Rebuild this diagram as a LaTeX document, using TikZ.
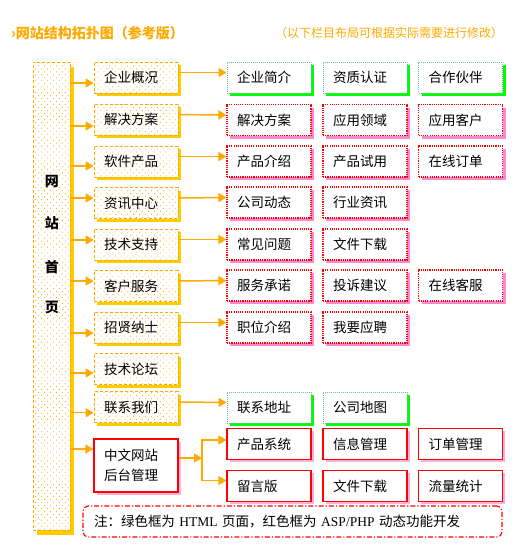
\documentclass[tikz,border=0pt]{standalone}
\usepackage{fontspec}
\setmainfont{Noto Sans CJK SC}
\newfontfamily\latinserif{Liberation Serif}
\usetikzlibrary{shadows,patterns.meta,arrows.meta,calc}
\definecolor{orgline}{HTML}{FFAA00}
\definecolor{goldsh}{HTML}{FFCC00}
\definecolor{dotc}{HTML}{FFB020}
\definecolor{grnborder}{HTML}{70B8A0}
\definecolor{grnsh}{HTML}{00FF00}
\definecolor{pinksh}{HTML}{FF88D0}
\definecolor{pinklt}{HTML}{FFB0DD}
\definecolor{redb}{HTML}{FF0000}
\newcommand{\boxfnt}{\fontsize{13.5pt}{20pt}\selectfont}
\tikzset{
  boxbase/.style={minimum width=84pt, minimum height=31pt, text width=64pt, align=left,
    inner xsep=10pt, inner ysep=0pt, font=\boxfnt, text=black},
  lvone/.style={boxbase,
    drop shadow={shadow xshift=3pt, shadow yshift=-3pt, fill=goldsh, opacity=1},
    preaction={fill=white},
    pattern={Dots[distance=4.2pt,angle=45,radius=0.6pt]}, pattern color=dotc,
    draw=orgline, line width=0.8pt, dash pattern=on 3pt off 2pt},
  grnbox/.style={boxbase,
    drop shadow={shadow xshift=3pt, shadow yshift=-3pt, fill=grnsh, opacity=1},
    fill=white, draw=grnborder, line width=0.9pt, dash pattern=on 1pt off 1pt},
  redbox/.style={boxbase,
    drop shadow={shadow xshift=3pt, shadow yshift=-3pt, fill=pinksh, opacity=1},
    fill=white, draw=redb, line width=1.1pt, dash pattern=on 1.1pt off 1.1pt},
  admbox/.style={boxbase,
    drop shadow={shadow xshift=2.5pt, shadow yshift=-2.5pt, fill=pinklt, opacity=1},
    fill=white, draw=redb, line width=1.2pt},
  mainbox/.style={minimum width=37pt, minimum height=468pt,
    drop shadow={shadow xshift=4pt, shadow yshift=-5pt, fill=goldsh, opacity=1},
    preaction={fill=white},
    pattern={Dots[distance=4.2pt,angle=45,radius=0.6pt]}, pattern color=dotc,
    draw=orgline, line width=0.8pt, dash pattern=on 3pt off 2pt},
  vtext/.style={font=\bfseries\fontsize{14pt}{16pt}\selectfont, text=black, inner sep=0pt},
  conn/.style={draw=orgline, line width=1.5pt, -{Triangle[length=8pt,width=9pt]}},
  plainln/.style={draw=orgline, line width=1.5pt, line cap=rect},
  notebox/.style={minimum width=419pt, minimum height=31pt, text width=397pt, align=left,
    inner xsep=11pt, inner ysep=0pt, rounded corners=5pt, draw=redb, fill=white,
    line width=1.1pt, dash pattern=on 5pt off 2pt on 1.2pt off 2pt, font=\boxfnt}
}
\begin{document}
\begin{tikzpicture}[x=1pt,y=-1pt]
\useasboundingbox (0,0) rectangle (524,550);
\fill[white] (0,0) rectangle (524,550);

% titles
\node[anchor=west, inner sep=0pt, text=orgline, font=\bfseries\fontsize{14pt}{16pt}\selectfont] (title) at (11,33) {›网站结构拓扑图（参考版）};
\node[anchor=west, inner sep=0pt, text=orgline, font=\fontsize{12pt}{14pt}\selectfont] (subtitle) at (275,33) {（以下栏目布局可根据实际需要进行修改）};

% main column
\node[mainbox] (main) at (51.5,296) {};
\node[vtext] (m1) at (52,182) {网};
\node[vtext] (m2) at (52,223) {站};
\node[vtext] (m3) at (52,267) {首};
\node[vtext] (m4) at (52,307) {页};

% level one
\node[lvone] (k1) at (136,77.5) {企业概况};
\node[lvone] (k2) at (136,119.5) {解决方案};
\node[lvone] (k3) at (136,161.5) {软件产品};
\node[lvone] (k4) at (136,203) {资讯中心};
\node[lvone] (k5) at (136,244.5) {技术支持};
\node[lvone] (k6) at (136,286) {客户服务};
\node[lvone] (k7) at (136,327.5) {招贤纳士};
\node[lvone] (k8) at (136,369) {技术论坛};
\node[lvone] (k9) at (136,407) {联系我们};
\node[admbox, minimum height=53pt] (k10) at (136,465.5) {中文网站\\后台管理};

% level two
\node[grnbox] (c11) at (269,77.5) {企业简介};
\node[grnbox] (c12) at (365,77.5) {资质认证};
\node[grnbox] (c13) at (460.5,77.5) {合作伙伴};
\node[redbox] (c21) at (269,120) {解决方案};
\node[redbox] (c22) at (365,120) {应用领域};
\node[redbox] (c23) at (460.5,120) {应用客户};
\node[redbox] (c31) at (269,161.5) {产品介绍};
\node[redbox] (c32) at (365,161.5) {产品试用};
\node[redbox] (c33) at (460.5,161.5) {在线订单};
\node[redbox] (c41) at (269,202.5) {公司动态};
\node[redbox] (c42) at (365,202.5) {行业资讯};
\node[redbox] (c51) at (269,244.5) {常见问题};
\node[redbox] (c52) at (365,244.5) {文件下载};
\node[redbox] (c61) at (269,285.5) {服务承诺};
\node[redbox] (c62) at (365,285.5) {投诉建议};
\node[redbox] (c63) at (460.5,285.5) {在线客服};
\node[redbox] (c71) at (269,327.5) {职位介绍};
\node[redbox] (c72) at (365,327.5) {我要应聘};
\node[grnbox] (c91) at (269,407.5) {联系地址};
\node[grnbox] (c92) at (365,407.5) {公司地图};
\node[admbox] (a11) at (269,444) {产品系统};
\node[admbox] (a12) at (365,444) {信息管理};
\node[admbox] (a13) at (460.5,444) {订单管理};
\node[admbox] (a21) at (269,486) {留言版};
\node[admbox] (a22) at (365,486) {文件下载};
\node[admbox] (a23) at (460.5,486) {流量统计};

% note
\node[notebox] (note) at (292.5,521.5) {注：绿色框为 {\latinserif HTML} 页面，红色框为 {\latinserif ASP/PHP} 动态功能开发};

% arrows from main column
\foreach \k/\d in {k1/5.5,k2/6.5,k3/4.5,k4/-5,k5/-4.5,k6/-5,k7/5.5,k8/4,k9/5.7,k10/-16.5}{
  \path ($(\k.west)+(0,\d)$) coordinate (t);
  \draw[conn] (main.east |- t) -- (t);
}
% arrows to level two
\foreach \k/\c in {k1/c11,k2/c21,k3/c31,k4/c41,k5/c51,k6/c61,k7/c71,k9/c91}{
  \draw[conn] ($(\k.east)+(0,-5)$) -- ($(\c.west)+(0,-5)$);
}
% admin fork
\coordinate (j) at (202,458);
\draw[conn] (k10.east |- j) -- (j);
\path ($(a11.west)+(0,-4)$) coordinate (ta);
\path ($(a21.west)+(0,-5.5)$) coordinate (tb);
\draw[plainln] (j |- ta) -- (j |- tb);
\draw[conn] (j |- ta) -- (ta);
\draw[conn] (j |- tb) -- (tb);
\end{tikzpicture}
\end{document}
